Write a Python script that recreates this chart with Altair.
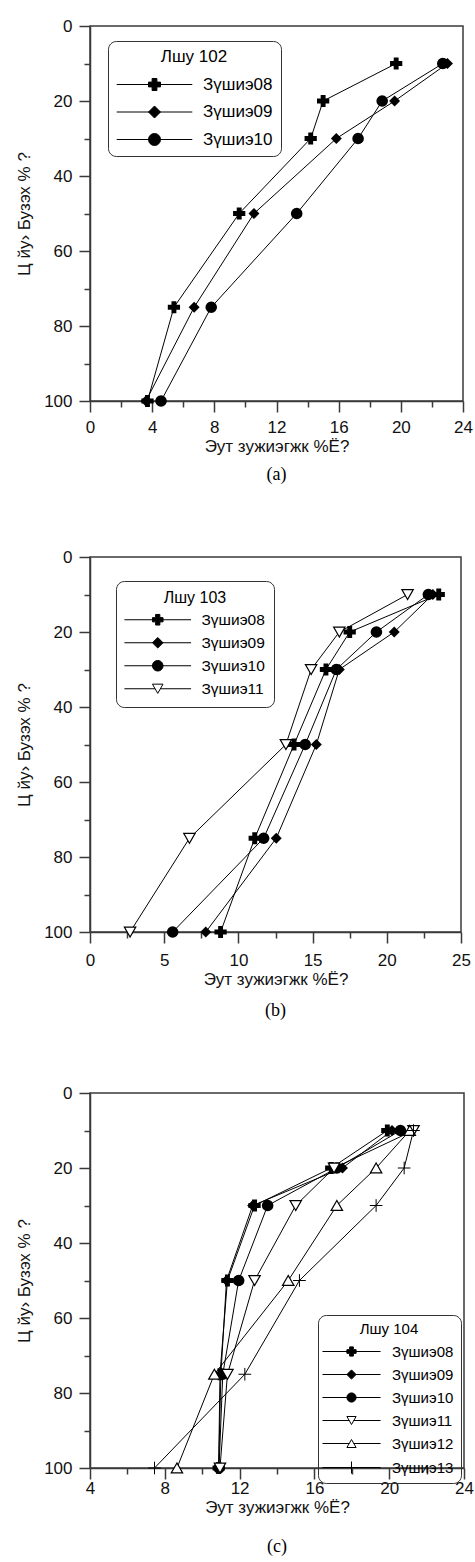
import altair as alt
import pandas as pd

# ---- data: depth of sampling layer and measured value per year series ----
depths = [10, 20, 30, 50, 75, 100]

# site 102
a_codes = ["08", "09", "10"]
a_08 = [19.7, 15.0, 14.2, 9.6, 5.4, 3.7]
a_09 = [23.0, 19.6, 15.85, 10.55, 6.7, 3.6]
a_10 = [22.7, 18.8, 17.25, 13.3, 7.8, 4.57]

# site 103
b_codes = ["08", "09", "10", "11"]
b_08 = [23.5, 17.5, 15.9, 13.75, 11.1, 8.8]
b_09 = [23.1, 20.5, 16.8, 15.25, 12.55, 7.8]
b_10 = [22.8, 19.3, 16.6, 14.5, 11.7, 5.57]
b_11 = [21.4, 16.8, 14.9, 13.2, 6.7, 2.7]

# site 104
c_codes = ["08", "09", "10", "11", "12", "13"]
c_08 = [19.9, 16.9, 12.8, 11.35, 10.95, 10.88]
c_09 = [20.15, 17.5, 12.7, 11.3, 11.0, 10.88]
c_10 = [20.6, 17.2, 13.5, 11.95, 11.1, 10.9]
c_11 = [21.3, 17.05, 15.0, 12.8, 11.35, 10.95]
c_12 = [21.1, 19.3, 17.2, 14.6, 10.65, 8.65]
c_13 = [21.3, 20.8, 19.3, 15.2, 12.28, 7.45]

# axis tick values
a_xticks = [0, 2, 4, 6, 8, 10, 12, 14, 16, 18, 20, 22, 24]
b_xticks = [0, 2.5, 5, 7.5, 10, 12.5, 15, 17.5, 20, 22.5, 25]
c_xticks = [4, 6, 8, 10, 12, 14, 16, 18, 20, 22, 24]
y_ticks = [0, 10, 20, 30, 40, 50, 60, 70, 80, 90, 100]

x_title = "Эут зужиэгжк %Ё?"
y_title = "Ц йу› Бузэх % ?"
series_prefix = "Зүшиэ"
site_prefix = "Лшу "

# ---- styling ----
FONT = "Liberation Sans"
SERIF = "Liberation Serif"
INK = "#3a3a3a"

point_style = {
    "08": dict(shape="cross", filled=True, color="black", size=150),
    "09": dict(shape="diamond", filled=True, color="black", size=120),
    "10": dict(shape="circle", filled=True, color="black", size=135),
    "11": dict(shape="triangle-down", filled=True, fill="white", stroke="black", strokeWidth=1.2, size=130),
    "12": dict(shape="triangle-up", filled=True, fill="white", stroke="black", strokeWidth=1.2, size=130),
    "13": dict(shape="M-1,0H1M0,-1V1", filled=False, stroke="black", strokeWidth=1, size=160),
}

# legend keys: marker with a line segment running through it
LINE = "M-6.3,0H6.3"
SPLIT = "M-6.3,0H-0.5M0.5,0H6.3"
key_shape = {
    "08": "M-1,-0.4H-0.4V-1H0.4V-0.4H1V0.4H0.4V1H-0.4V0.4H-1Z" + LINE,
    "09": "M0,-1L1,0L0,1L-1,0Z" + LINE,
    "10": "M1,0A1,1,0,1,1,-1,0A1,1,0,1,1,1,0Z" + LINE,
    "11": "M-1,-0.87H1L0,0.87Z" + SPLIT,
    "12": "M0,-0.87L1,0.87H-1Z" + SPLIT,
    "13": "M0,-1.3V1.3" + LINE,
}
key_fill = {"08": "black", "09": "black", "10": "black", "11": "white", "12": "white", "13": "white"}


def panel(codes, values, site, x_domain, x_ticks, major_test, width, label_pad, legend_opts, caption, caption_offset):
    names = [series_prefix + c for c in codes]
    df = pd.DataFrame(
        [{"series": n, "depth": d, "value": v}
         for n, vals in zip(names, values) for d, v in zip(depths, vals)]
    )
    x = alt.X(
        "value:Q",
        scale=alt.Scale(domain=x_domain, nice=False, zero=False),
        axis=alt.Axis(
            title=x_title, values=x_ticks, labelPadding=label_pad,
            labelExpr=f"{major_test} ? datum.label : ''",
            tickSize={"condition": {"test": major_test, "value": 11}, "value": 6},
        ),
    )
    y = alt.Y(
        "depth:Q",
        scale=alt.Scale(domain=[0, 100], reverse=True, nice=False, zero=False),
        axis=alt.Axis(
            title=y_title, values=y_ticks,
            labelExpr="datum.value % 20 === 0 ? datum.label : ''",
            tickSize={"condition": {"test": "datum.value % 20 === 0", "value": 11}, "value": 6},
        ),
    )
    lines = alt.Chart().mark_line(color="black", strokeWidth=1).encode(
        detail="series:N", order="depth:Q"
    )
    points = [
        alt.Chart().transform_filter(alt.datum.series == n).mark_point(opacity=1, **point_style[c])
        for c, n in zip(codes, names)
    ]
    legend = alt.Legend(
        title=site_prefix + site, orient="none", direction="vertical",
        titleAnchor="middle", titleFont=FONT, titleFontWeight="normal", titleColor="black",
        labelFont=FONT, labelColor="black",
        symbolStrokeWidth=1,
        strokeColor="#333333", cornerRadius=8,
        **legend_opts,
    )
    key = alt.Chart().transform_filter("false").mark_point(
        opacity=1, filled=True, strokeWidth=1
    ).encode(
        shape=alt.Shape("series:N", scale=alt.Scale(domain=names, range=[key_shape[c] for c in codes]), legend=legend),
        fill=alt.Fill("series:N", scale=alt.Scale(domain=names, range=[key_fill[c] for c in codes]), legend=legend),
        stroke=alt.Stroke("series:N", scale=alt.Scale(domain=names, range=["black"] * len(codes)), legend=legend),
    )
    return alt.layer(lines, *points, key, data=df).encode(x=x, y=y).properties(
        width=width, height=375,
        title=alt.TitleParams(caption, orient="bottom", font=SERIF, fontSize=18,
                              fontWeight="normal", color="black", offset=caption_offset, anchor="middle"),
    )


pa = panel(a_codes, [a_08, a_09, a_10], "102", [0, 24], a_xticks, "datum.value % 4 === 0", 373, 7,
           dict(legendX=18, legendY=15, titleFontSize=17, labelFontSize=17, symbolSize=144,
                symbolOffset=30, labelOffset=40, rowPadding=9.5, titlePadding=10, padding=8),
           "(a)", 12)
pb = panel(b_codes, [b_08, b_09, b_10, b_11], "103", [0, 25], b_xticks, "datum.value % 5 === 0", 371, 9,
           dict(legendX=26, legendY=24, titleFontSize=16, labelFontSize=15.5, symbolSize=112,
                symbolOffset=25, labelOffset=36, rowPadding=6, titlePadding=6, padding=9),
           "(b)", 15)
pc = panel(c_codes, [c_08, c_09, c_10, c_11, c_12, c_13], "104", [4, 24], c_xticks, "datum.value % 4 === 0", 374, 1,
           dict(legendX=228, legendY=222, titleFontSize=15, labelFontSize=15, symbolSize=85,
                symbolOffset=19, labelOffset=33, rowPadding=7, titlePadding=7, padding=7),
           "(c)", 23)

chart = (
    alt.vconcat(pa, pb, pc, spacing=62)
    .resolve_scale(x="independent", y="independent", shape="independent", fill="independent", stroke="independent")
    .resolve_legend(shape="independent", fill="independent", stroke="independent")
    .properties(padding={"left": 14, "top": 16, "right": 0, "bottom": 2}, background="white")
    .configure_view(stroke=INK, strokeWidth=1.5)
    .configure_axis(
        labelFont=FONT, labelFontSize=17, labelColor="#111111",
        titleFont=FONT, titleFontSize=17, titleFontWeight="normal", titleColor="#111111",
        domainColor=INK, domainWidth=1.5, tickColor=INK, tickWidth=1.5,
        grid=False, labelFlush=False, labelOverlap=False,
    )
    .configure_axisX(titlePadding=3)
    .configure_axisY(labelPadding=7, titlePadding=10)
)

chart.save("out.html", embed_options={"renderer": "svg", "actions": False})
